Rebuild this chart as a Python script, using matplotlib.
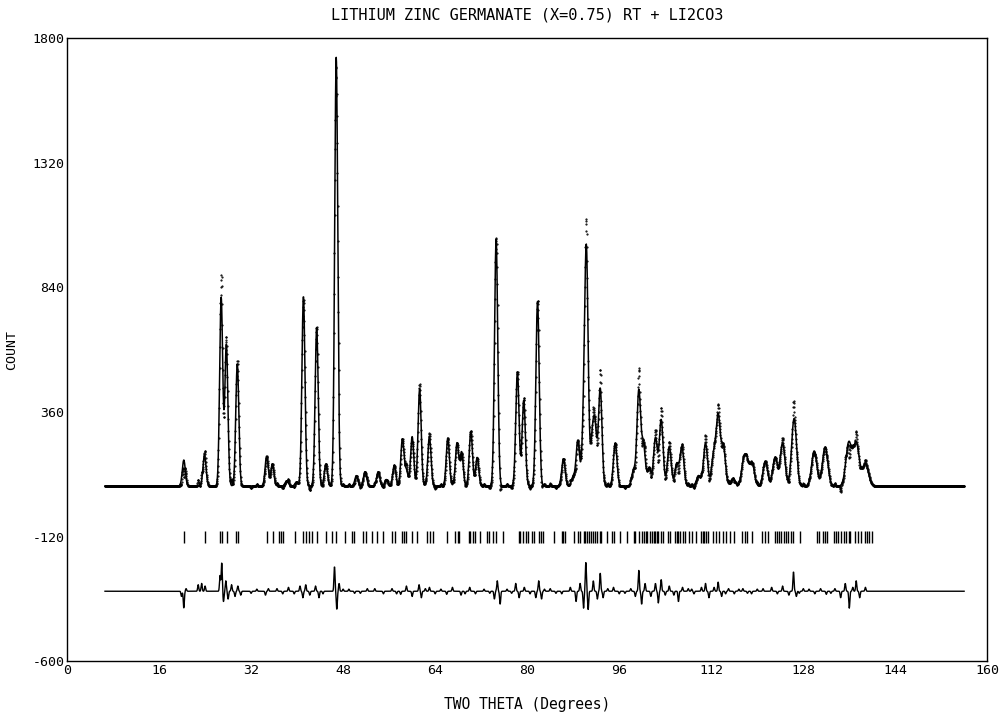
import numpy as np
import matplotlib.pyplot as plt

plt.rcParams['font.family'] = ['DejaVu Sans Mono', 'DejaVu Sans']
plt.rcParams['axes.unicode_minus'] = False

title = 'LITHIUM ZINC GERMANATE (X=0.75) RT + LI2CO3'
x_label = 'TWO THETA (Degrees)'
y_label = 'COUNT'
x_ticks = [0, 16, 32, 48, 64, 80, 96, 112, 128, 144, 160]
y_ticks = [-600, -120, 360, 840, 1320, 1800]

# scan range and levels
scan_start = 6.6
scan_data_end = 139.6
scan_end = 156.0
background = 75
diff_offset = -330
tick_low, tick_high = -145, -98

# refined peaks: position (2theta) and height above background
peak_pos = [20.3, 23.9, 26.8, 27.7, 29.6, 34.7, 35.7, 38.2, 39.9, 41.1,
            43.4, 45.0, 46.8, 50.3, 51.8, 54.1, 55.5, 56.9, 58.3, 59.0, 60.0,
            61.3, 63.0, 66.2, 67.8, 68.6, 70.2, 71.3, 74.6, 78.3, 79.4,
            81.8, 86.3, 88.0, 88.8, 89.8, 90.3, 91.3, 91.8, 92.7, 95.3,
            98.5, 99.4, 100.2, 101.2, 102.3, 103.3, 104.7, 106.0, 106.9, 109.8,
            111.0, 112.4, 113.2, 114.1, 115.8, 117.6, 118.2, 119.1, 121.4, 123.1,
            124.4, 126.4, 129.9, 131.8, 135.9, 137.2, 138.8]
peak_height = [100, 120, 725, 545, 470, 115, 85, 20, 15, 730,
               610, 85, 1650, 40, 55, 55, 25, 80, 180, 60, 190,
               375, 190, 185, 165, 130, 210, 110, 950, 440, 330,
               710, 105, 35, 175, 190, 880, 165, 210, 375, 165,
               60, 365, 160, 70, 185, 255, 150, 85, 150, 40,
               165, 115, 265, 150, 30, 85, 85, 90, 95, 110,
               165, 260, 135, 150, 165, 165, 85]

# misfit (obs - calc) features
diff_pos = [19.9, 20.3, 20.7, 22.8, 23.4, 24.0, 26.6, 26.9, 27.2, 27.6,
            28.0, 28.6, 29.2, 29.7, 30.2, 34.5, 35.0, 36.5, 37.5, 38.5,
            39.5, 40.5, 41.0, 41.5, 42.2, 43.2, 43.8, 46.5, 46.9, 47.3,
            49.0, 51.0, 53.5, 55.0, 56.5, 58.0, 59.0, 60.0, 61.2, 61.6,
            63.0, 64.0, 66.0, 67.0, 68.5, 70.0, 71.0, 74.3, 74.8, 75.3,
            78.0, 78.6, 79.5, 81.5, 82.0, 82.5, 84.0, 86.0, 87.5, 88.5,
            89.2, 89.8, 90.2, 90.6, 91.5, 92.2, 92.7, 93.2, 95.0, 96.0,
            98.0, 98.8, 99.4, 99.9, 100.5, 101.5, 102.3, 102.8, 103.3, 104.0,
            104.7, 105.5, 106.3, 107.0, 108.0, 109.0, 110.3, 111.0, 111.6, 112.5,
            113.2, 113.8, 115.0, 116.0, 117.5, 119.0, 121.0, 122.5, 123.5, 124.4,
            125.5, 126.3, 126.8, 128.0, 130.0, 131.0, 132.0, 133.5, 134.5, 135.3,
            136.0, 136.6, 137.2, 137.8, 138.8,
            32.0, 33.0, 44.5, 48.0, 50.0, 52.2, 57.3, 62.3, 65.0, 69.2,
            72.5, 73.5, 76.5, 77.3, 80.5, 83.0, 85.0, 94.0, 97.0, 108.6,
            114.5, 116.8, 118.3, 120.0, 127.3, 129.0, 132.8]
diff_amp = [-20, -65, 10, 25, 30, 20, 60, 110, -40, 40,
            -30, 25, -20, 20, -15, -15, 10, 10, -10, 15,
            -10, 20, -25, 25, -15, 20, -25, 95, -70, 30,
            8, -8, 10, -10, 10, -12, 20, -20, 25, -25,
            15, -10, -12, 15, -15, 15, -10, -30, 40, -50,
            30, -25, 15, -25, 40, -30, 10, -10, 15, -40,
            30, -65, 110, -70, 40, -30, 70, -25, 15, -10,
            10, -20, 80, -50, 30, -20, 30, -45, 45, -15,
            20, -15, -40, 15, 10, -10, 15, 30, -25, 15,
            35, -20, 10, -10, 10, -10, 10, 15, -10, 20,
            -15, 75, -20, 10, -10, 10, -12, 10, -25, 30,
            -65, 15, 40, -25, 15,
            -8, 8, -10, 8, -8, 10, -10, 10, 8, -10,
            8, -8, 8, -8, -10, 8, -8, 10, -8, 8,
            -10, 8, -8, 8, -8, 8, -8]

# reflection markers
reflections = [20.3, 23.9, 26.6, 26.9, 27.8, 29.4, 29.8, 34.7, 35.8, 36.8,
               37.2, 37.6, 39.7, 41.1, 41.6, 42.0, 42.6, 43.4, 45.0, 46.1,
               46.8, 48.4, 49.5, 49.9, 51.5, 52.0, 53.0, 53.9, 55.0, 56.5,
               57.0, 58.2, 58.6, 59.0, 59.9, 60.8, 62.6, 63.1, 63.7, 66.0,
               67.5, 67.9, 68.2, 69.8, 70.1, 70.5, 71.0, 71.8, 73.0, 73.4,
               74.0, 74.6, 75.8, 78.5, 78.8, 79.3, 79.8, 80.2, 80.8, 81.2,
               82.0, 82.4, 82.7, 84.6, 86.0, 86.3, 86.6, 88.1, 88.8, 89.1,
               89.8, 90.1, 90.4, 90.7, 91.1, 91.5, 91.8, 92.2, 92.6, 92.8,
               93.9, 94.7, 95.1, 96.1, 97.3, 98.5, 98.8, 99.4, 99.9, 100.3,
               100.7, 100.9, 101.4, 101.7, 102.0, 102.3, 102.6, 102.8, 103.3, 103.6,
               104.5, 104.9, 105.7, 106.0, 106.3, 106.6, 107.1, 107.5, 108.1, 108.6,
               109.4, 110.3, 110.6, 110.8, 111.1, 111.4, 112.3, 112.9, 113.3, 114.0,
               114.6, 115.2, 115.9, 117.3, 117.9, 118.3, 119.1, 120.8, 121.3, 121.8,
               123.0, 123.4, 123.8, 124.2, 124.6, 125.0, 125.4, 125.9, 126.3, 127.5,
               130.4, 130.8, 131.4, 131.7, 132.1, 133.3, 133.7, 134.1, 134.6, 135.0,
               135.5, 135.9, 136.2, 137.0, 137.6, 138.1, 138.7, 139.1, 139.5, 139.9]

# Caglioti resolution (deg^2)
U, V, W = 0.2, -0.1, 0.4


def fwhm(p):
    t = np.tan(np.radians(p / 2.0))
    return np.sqrt(U * t * t + V * t + W)


def gauss(x, p, w):
    return np.exp(-4 * np.log(2) * ((x - p) / w) ** 2)


tt = np.arange(scan_start, scan_end, 0.04)
calc = np.full_like(tt, float(background))
for p, h in zip(peak_pos, peak_height):
    calc += h * gauss(tt, p, fwhm(p))

resid = np.zeros_like(tt)
for p, a in zip(diff_pos, diff_amp):
    resid += a * gauss(tt, p, 0.22)
resid[tt > scan_data_end] = 0
obs = calc + resid

fig = plt.figure(figsize=(10.08, 7.15), dpi=100)
ax = fig.add_axes([0.0665, 0.075, 0.913, 0.872])

ax.plot(tt, calc, color='black', lw=1.1)
ax.plot(tt, obs, ls='none', marker='.', ms=1.1, color='black')
ax.vlines(reflections, tick_low, tick_high, color='black', lw=1.0)
ax.plot(tt, resid + diff_offset, color='black', lw=1.0)

ax.set_xlim(0, 160)
ax.set_ylim(-600, 1800)
ax.set_xticks(x_ticks)
ax.set_yticks(y_ticks)
ax.tick_params(length=0, labelsize=9.5, pad=2)
for s in ax.spines.values():
    s.set_linewidth(1.0)

ax.set_xlabel(x_label, fontsize=10.5, labelpad=14)
ax.set_ylabel(y_label, fontsize=9.5, labelpad=10)
ax.set_title(title, fontsize=11, pad=13)

fig.savefig('out.png', dpi=100)
